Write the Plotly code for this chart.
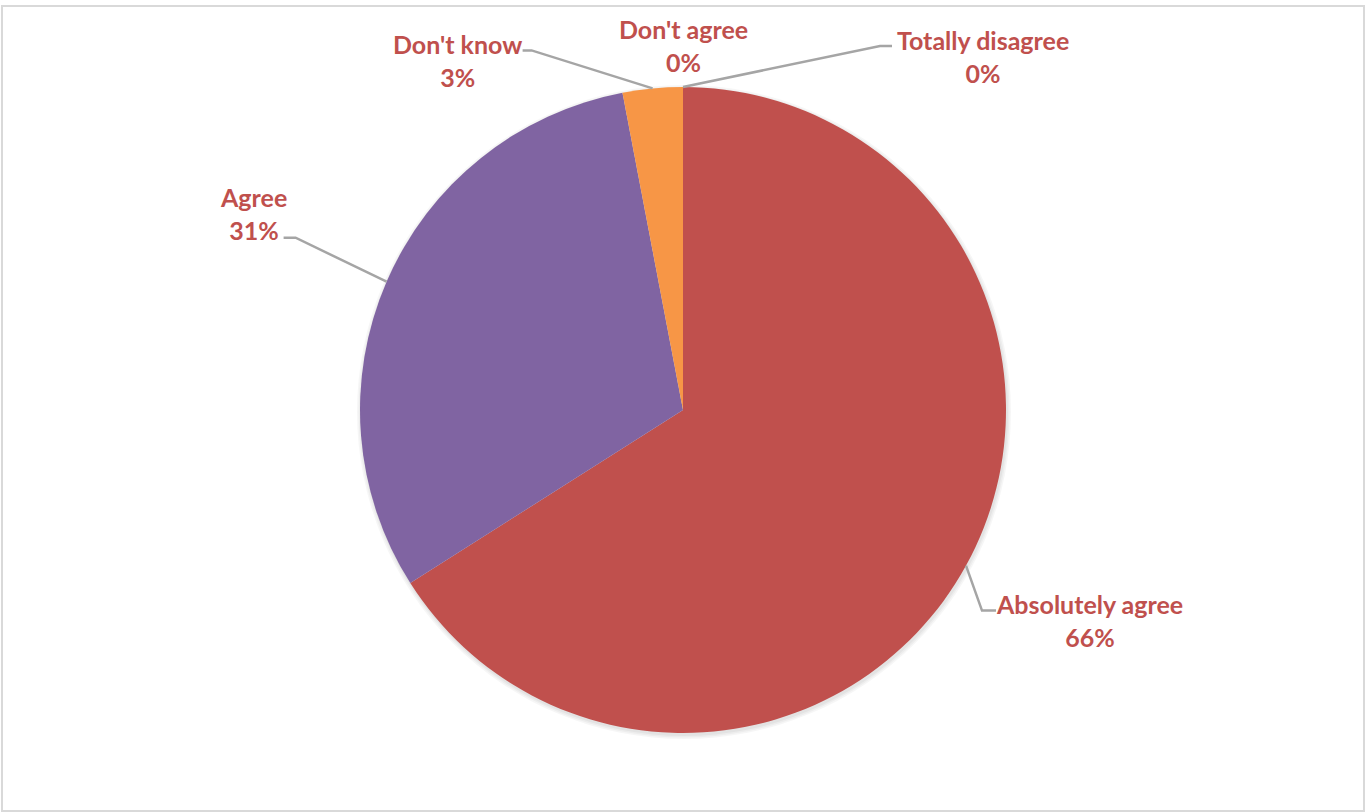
import math
import plotly.graph_objects as go

categories = ["Absolutely agree", "Agree", "Don't know", "Don't agree", "Totally disagree"]
values = [66, 31, 3, 0, 0]
colors = ["#C0504D", "#8064A2", "#F79646", "#4BACC6", "#9BBB59"]

W, H = 1367, 812
CX, CY, R = 683, 410, 323

# label placement (offset of text block centre from pie anchor point), in pixels
label_offsets = {
    "Absolutely agree": (123, 55),
    "Agree": (-133, -68),
    "Don't know": (-195, -28),
    "Don't agree": (0, -42),
    "Totally disagree": (300, -31),
}
# leader-line elbow (relative to label centre) and horizontal tail length
elbow = {
    "Absolutely agree": (-107, -10, 14),
    "Agree": (42, 24, -12),
    "Don't know": (74, -10, -9),
    "Totally disagree": (-103, -10, 12),
}

fig = go.Figure()

# soft shadow behind pie
for i, a in enumerate([0.035, 0.035, 0.04]):
    rr = R + 4 - i * 1.5
    fig.add_shape(type="circle", xref="x", yref="y",
                  x0=CX + 1 - rr, x1=CX + 1 + rr, y0=CY + 2 - rr, y1=CY + 2 + rr,
                  fillcolor=f"rgba(0,0,0,{a})", line=dict(width=0), layer="below")

fig.add_trace(go.Pie(
    labels=categories, values=values, sort=False, direction="clockwise", rotation=0,
    marker=dict(colors=colors, line=dict(width=0)),
    textinfo="none", hoverinfo="label+percent", showlegend=False,
    domain=dict(x=[(CX - R) / W, (CX + R) / W], y=[1 - (CY + R) / H, 1 - (CY - R) / H]),
))

# hidden pixel-space axes for annotations / leader lines
fig.update_xaxes(range=[0, W], visible=False, fixedrange=True)
fig.update_yaxes(range=[H, 0], visible=False, fixedrange=True)
fig.add_trace(go.Scatter(x=[0], y=[0], mode="markers", marker=dict(opacity=0), showlegend=False, hoverinfo="skip"))

total = sum(values)
cum = 0
for cat, v in zip(categories, values):
    mid = (cum + v / 2) / total * 2 * math.pi
    cum += v
    ax = CX + R * math.sin(mid)
    ay = CY - R * math.cos(mid)
    dx, dy = label_offsets[cat]
    lx, ly = ax + dx, ay + dy
    pct = round(v / total * 100)
    fig.add_annotation(x=lx, y=ly, xref="x", yref="y", showarrow=False,
                       text=f"<b>{cat}<br>{pct}%</b>", align="center",
                       font=dict(family="Lato", size=25, color="#C0504D"))
    if cat in elbow:
        ex, ey, hl = elbow[cat]
        px, py = lx + ex, ly + ey
        fig.add_shape(type="path", xref="x", yref="y",
                      path=f"M {ax:.1f} {ay:.1f} L {px:.1f} {py:.1f} L {px + hl:.1f} {py:.1f}",
                      line=dict(color="#A5A5A5", width=2.5))

# outer chart border
fig.add_shape(type="rect", xref="x", yref="y", x0=2, x1=1364, y0=6, y1=811,
              line=dict(color="#D9D9D9", width=2))

fig.update_layout(width=W, height=H, margin=dict(l=0, r=0, t=0, b=0),
                  paper_bgcolor="white", plot_bgcolor="white")
fig.write_html("out.html", config={"displayModeBar": False},
               post_script="document.body.style.margin='0';document.body.style.overflow='hidden';")
